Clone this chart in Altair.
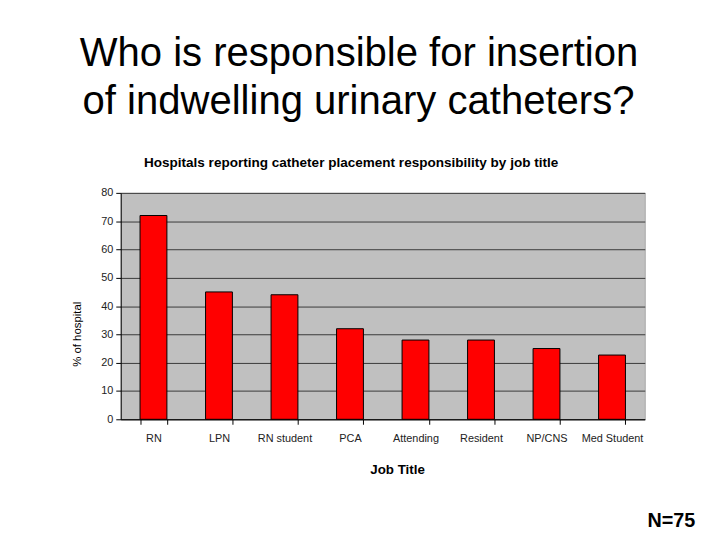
import altair as alt
import pandas as pd

jobs = ["RN", "LPN", "RN student", "PCA", "Attending", "Resident", "NP/CNS", "Med Student"]
pct = [72, 45, 44, 32, 28, 28, 25, 22.7]
y_ticks = [0, 10, 20, 30, 40, 50, 60, 70, 80]

title_lines = ["Who is responsible for insertion", "of indwelling urinary catheters?"]
subtitle = "Hospitals reporting catheter placement responsibility by job title"
x_title = "Job Title"
y_title = "% of hospital"
note = "N=75"

df = pd.DataFrame({"job": jobs, "pct": pct})

W, H = 530, 229
FONT = "Liberation Sans"

bars = alt.Chart(df).mark_bar(color="#ff0000", stroke="#000000", strokeWidth=1).encode(
    x=alt.X("job:N", sort=jobs, title=None,
            scale=alt.Scale(paddingInner=0.59, paddingOuter=0.295),
            axis=alt.Axis(labelAngle=0, labelFont=FONT, labelFontSize=11, labelColor="#222",
                          labelPadding=8, tickBand="extent", tickSize=5, tickColor="#000",
                          domainColor="#000", grid=False)),
    y=alt.Y("pct:Q", title=None, scale=alt.Scale(domain=[0, 80], nice=False),
            axis=alt.Axis(values=y_ticks, labelFont=FONT, labelFontSize=11, labelColor="#222",
                          tickSize=5, tickColor="#000", domainColor="#000",
                          grid=True, gridColor="#3a3a3a", gridWidth=1, labelPadding=3)),
)

def txt(s, x, y, size, bold=False, angle=0):
    return alt.Chart(pd.DataFrame({"t": [s]})).mark_text(
        font=FONT, fontSize=size, fontWeight="bold" if bold else "normal",
        color="#000", align="center", baseline="middle", angle=angle,
    ).encode(text="t:N", x=alt.value(x), y=alt.value(y))

layers = [
    bars,
    txt(title_lines[0], 241, -140, 40.5),
    txt(title_lines[1], 240.5, -92, 40.5),
    txt(subtitle, 233, -30, 13.7, bold=True),
    txt(x_title, 280, 280, 13.5, bold=True),
    txt(y_title, -43, 143, 11.5, angle=270),
    txt(note, 557, 332, 20, bold=True),
]

chart = alt.layer(*layers).properties(
    width=W, height=H,
    autosize=alt.AutoSizeParams(type="none"),
    padding={"left": 114, "top": 184, "right": 68, "bottom": 110},
    background="white",
).configure_view(fill="#c0c0c0", stroke="#a8a8a8", strokeWidth=1)

chart.save("out.html", embed_options={"renderer": "svg", "actions": False})
